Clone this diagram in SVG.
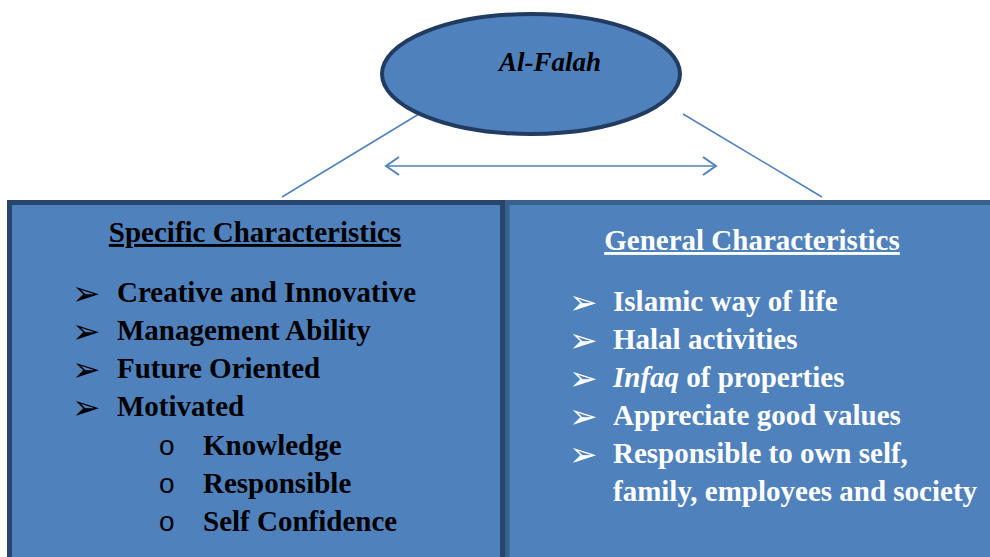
<svg xmlns="http://www.w3.org/2000/svg" width="990" height="557" viewBox="0 0 990 557">
<defs>
<style>
.t{font-family:"Liberation Serif","Times New Roman",serif;font-weight:bold;font-size:29px}
.blk{fill:#000}
.wht{fill:#fff}
.bul{font-family:"DejaVu Sans",sans-serif;font-size:34px}
.sub{font-family:"Liberation Sans",Arial,sans-serif;font-size:28px;fill:#000}
.con{stroke:#4f81bd;stroke-width:1.5;fill:none}
</style>
<marker id="ah" markerWidth="16" markerHeight="20" refX="14" refY="10" orient="auto-start-reverse" markerUnits="userSpaceOnUse">
<path d="M1,1 L14,10 L1,19" fill="none" stroke="#4f81bd" stroke-width="2"/>
</marker>
</defs>
<rect width="990" height="557" fill="#fff"/>
<g id="connectors">
<line class="con" x1="419" y1="114" x2="282" y2="197"/>
<line class="con" x1="683" y1="114" x2="822" y2="197"/>
<line class="con" x1="386" y1="166" x2="716" y2="166" stroke-width="2" marker-start="url(#ah)" marker-end="url(#ah)"/>
</g>
<g id="al-falah">
<ellipse cx="531" cy="74" rx="149" ry="60" fill="#4f81bd" stroke="#223c61" stroke-width="4"/>
<text x="550" y="71" text-anchor="middle" font-family="Liberation Serif, Times New Roman, serif" font-weight="bold" font-style="italic" font-size="27" fill="#000">Al-Falah</text>
</g>
<g id="general">
<rect x="507" y="202.5" width="500" height="380" fill="#4f81bd" stroke="#3a6090" stroke-width="5"/>
<text class="t wht" x="752" y="250" text-anchor="middle" text-decoration="underline">General Characteristics</text>
<text class="bul wht" x="569" y="314">➢</text>
<text class="t wht" x="613" y="311">Islamic way of life</text>
<text class="bul wht" x="569" y="352">➢</text>
<text class="t wht" x="613" y="349">Halal activities</text>
<text class="bul wht" x="569" y="390">➢</text>
<text class="t wht" x="613" y="387"><tspan font-style="italic">Infaq</tspan> of properties</text>
<text class="bul wht" x="569" y="428">➢</text>
<text class="t wht" x="613" y="425">Appreciate good values</text>
<text class="bul wht" x="569" y="466">➢</text>
<text class="t wht" x="613" y="463">Responsible to own self,</text>
<text class="t wht" x="613" y="501">family, employees and society</text>
</g>
<g id="specific">
<rect x="9.5" y="202.5" width="493" height="380" fill="#4f81bd" stroke="#27456d" stroke-width="5"/>
<text class="t blk" x="255" y="242" text-anchor="middle" text-decoration="underline">Specific Characteristics</text>
<text class="bul blk" x="72" y="305">➢</text>
<text class="t blk" x="117" y="302">Creative and Innovative</text>
<text class="bul blk" x="72" y="343">➢</text>
<text class="t blk" x="117" y="340">Management Ability</text>
<text class="bul blk" x="72" y="381">➢</text>
<text class="t blk" x="117" y="378">Future Oriented</text>
<text class="bul blk" x="72" y="419">➢</text>
<text class="t blk" x="117" y="416">Motivated</text>
<text class="sub" x="159" y="455">o</text>
<text class="t blk" x="203" y="455">Knowledge</text>
<text class="sub" x="159" y="493">o</text>
<text class="t blk" x="203" y="493">Responsible</text>
<text class="sub" x="159" y="531">o</text>
<text class="t blk" x="203" y="531">Self Confidence</text>
</g>
</svg>
